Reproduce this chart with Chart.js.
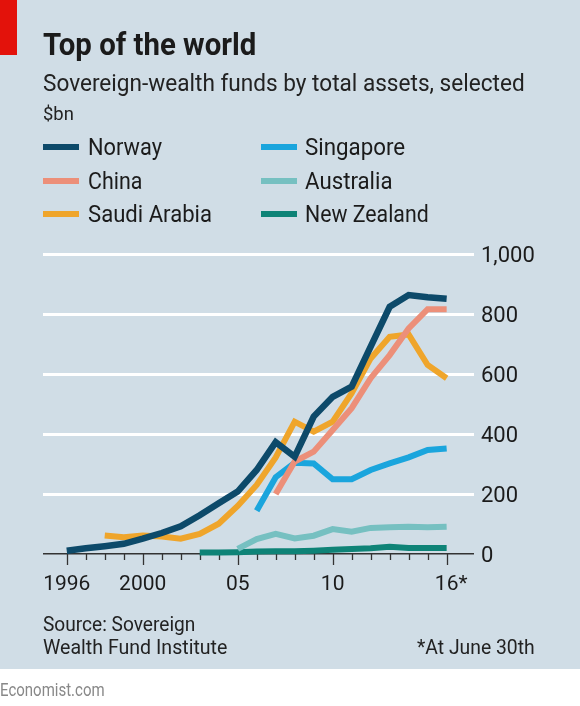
<!DOCTYPE html>
<html>
<head>
<meta charset="utf-8">
<script src="https://cdn.jsdelivr.net/npm/chart.js@4.4.1/dist/chart.umd.min.js"></script>
<style>
  body { margin: 0; width: 580px; height: 706px; position: relative; background: #fff; overflow: hidden;
         font-family: Roboto, "Noto Sans", sans-serif; }
  #panel { position: absolute; left: 0; top: 0; width: 580px; height: 669px; background: #d0dde6; }
  #red { position: absolute; left: 0; top: 0; width: 17px; height: 55px; background: #e3120b; }
  .t { position: absolute; white-space: nowrap; line-height: 1; color: #1b1b1b; transform-origin: 0 0; }
  .sw { position: absolute; width: 36px; height: 6px; }
  canvas { position: absolute; left: 0; top: 0; }
</style>
</head>
<body>
<div id="panel"></div>
<div id="red"></div>
<canvas id="c" width="580" height="706"></canvas>

<div class="t" data-w="213" style="left:43px;top:28px;font-size:32px;font-weight:700">Top of the world</div>
<div class="t" data-w="482" style="left:43px;top:71px;font-size:24px;color:#222">Sovereign-wealth funds by total assets, selected</div>
<div class="t" data-w="31" style="left:43px;top:104px;font-size:19px;color:#222">$bn</div>

<div class="sw" style="left:43px;top:144px;background:#0d4a6a"></div>
<div class="t" data-w="74" style="left:88px;top:136px;font-size:23px">Norway</div>
<div class="sw" style="left:43px;top:178px;background:#ec8f79"></div>
<div class="t" data-w="54" style="left:88px;top:170px;font-size:23px">China</div>
<div class="sw" style="left:43px;top:211px;background:#efa52b"></div>
<div class="t" data-w="124" style="left:88px;top:203px;font-size:23px">Saudi Arabia</div>
<div class="sw" style="left:261px;top:144px;background:#1aa5dd"></div>
<div class="t" data-w="100" style="left:305px;top:136px;font-size:23px">Singapore</div>
<div class="sw" style="left:261px;top:178px;background:#76c0c1"></div>
<div class="t" data-w="88" style="left:305px;top:170px;font-size:23px">Australia</div>
<div class="sw" style="left:261px;top:211px;background:#0e8377"></div>
<div class="t" data-w="124" style="left:305px;top:203px;font-size:23px">New Zealand</div>

<div class="t" data-w="152" style="left:43px;top:614px;font-size:20px;color:#222">Source: Sovereign</div>
<div class="t" data-w="184" style="left:43px;top:637px;font-size:20px;color:#222">Wealth Fund Institute</div>
<div class="t" data-w="118" style="left:417px;top:637px;font-size:20px;color:#222">*At June 30th</div>
<div class="t" data-w="105" style="left:0px;top:681px;font-size:18px;color:#888">Economist.com</div>

<script>
// data, $bn
const years = [1996, 1997, 1998, 1999, 2000, 2001, 2002, 2003, 2004, 2005, 2006,
               2007, 2008, 2009, 2010, 2011, 2012, 2013, 2014, 2015, 2016];
const norway    = [11, 19, 26, 34, 51, 70, 92, 129, 169, 208, 280, 373, 324, 458, 524, 558, 691, 824, 863, 856, 851];
const china     = [null, null, null, null, null, null, null, null, null, null, null, 200, 308, 341, 413, 486, 586, 663, 752, 816, 816];
const saudi     = [null, null, 62, 56, 62, 58, 51, 67, 101, 160, 230, 322, 441, 408, 441, 536, 652, 724, 732, 630, 586];
const singapore = [null, null, null, null, null, null, null, null, null, null, 144, 256, 304, 302, 249, 249, 280, 302, 322, 347, 352];
const australia = [null, null, null, null, null, null, null, null, null, 17, 50, 67, 52, 61, 83, 74, 87, 89, 91, 89, 91];
const newZealand = [null, null, null, null, null, null, null, 5, 5, 6, 8, 9, 9, 11, 14, 17, 19, 24, 20, 20, 20];

const yTicks = [0, 200, 400, 600, 800, 1000];
const yTickLabels = ['0', '200', '400', '600', '800', '1,000'];
const xTickYears = [1996, 2000, 2005, 2010, 2016];
const xTickLabels = ['1996', '2000', '05', '10', '16*'];

// squeeze text to the narrow width of the original type
document.querySelectorAll('.t').forEach(el => {
  const w = +el.dataset.w;
  el.style.transform = `scaleX(${w / el.offsetWidth})`;
});

const pts = arr => years.map((yr, i) => ({ x: yr, y: arr[i] })).filter(p => p.y !== null);

const line = (label, arr, color, width) => ({
  label, data: pts(arr), borderColor: color, borderWidth: width || 6,
  pointRadius: 0, tension: 0, borderCapStyle: 'butt', borderJoinStyle: 'miter', clip: false
});

const axisText = {
  id: 'axisText',
  beforeDatasetsDraw(chart) {
    const { ctx, scales: { x, y } } = chart;
    const base = y.getPixelForValue(0);
    ctx.save();
    ctx.strokeStyle = '#333';
    ctx.lineWidth = 1.3;
    years.forEach(yr => {
      const px = Math.round(x.getPixelForValue(yr)) + 0.5;
      ctx.beginPath();
      ctx.moveTo(px, base);
      ctx.lineTo(px, base + (xTickYears.includes(yr) ? 11 : 6));
      ctx.stroke();
    });
    ctx.restore();
  },
  afterDraw(chart) {
    const { ctx, scales: { x, y } } = chart;
    const base = y.getPixelForValue(0);
    ctx.save();
    ctx.fillStyle = '#1b1b1b';
    ctx.font = '22px Roboto';
    ctx.textBaseline = 'middle';
    ctx.textAlign = 'left';
    yTicks.forEach((v, i) => ctx.fillText(yTickLabels[i], x.right + 7, y.getPixelForValue(v) + 2));
    ctx.font = '21px Roboto';
    ctx.textBaseline = 'alphabetic';
    xTickYears.forEach((yr, i) => {
      const lab = xTickLabels[i];
      const core = ctx.measureText(lab.replace('*', '')).width;
      ctx.fillText(lab, x.getPixelForValue(yr) - core / 2, base + 36);
    });
    ctx.restore();
  }
};

new Chart(document.getElementById('c'), {
  type: 'line',
  data: {
    datasets: [
      line('Norway', norway, '#0d4a6a', 6.5),
      line('China', china, '#ec8f79'),
      line('Saudi Arabia', saudi, '#efa52b'),
      line('Singapore', singapore, '#1aa5dd'),
      line('Australia', australia, '#76c0c1'),
      line('New Zealand', newZealand, '#0e8377')
    ]
  },
  options: {
    responsive: false,
    animation: false,
    events: [],
    layout: { padding: { left: 43, right: 106, top: 254, bottom: 152 } },
    plugins: { legend: { display: false }, tooltip: { enabled: false } },
    scales: {
      x: { type: 'linear', display: false, min: 1994.75, max: 2017.44 },
      y: {
        min: 0, max: 1000,
        ticks: { display: false, stepSize: 200 },
        border: { display: false },
        grid: {
          drawTicks: false,
          color: c => c.tick.value === 0 ? '#333' : '#ffffff',
          lineWidth: c => c.tick.value === 0 ? 1.5 : 3
        },
        afterFit: s => { s.width = 0; }
      }
    }
  },
  plugins: [axisText]
});
</script>
</body>
</html>
